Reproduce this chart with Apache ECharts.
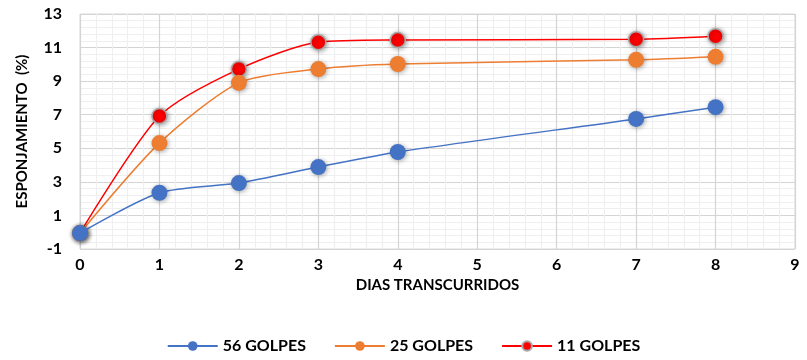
<!DOCTYPE html>
<html>
<head>
<meta charset="utf-8">
<script src="https://cdn.jsdelivr.net/npm/echarts@6/dist/echarts.min.js"></script>
<style>
html, body { margin: 0; padding: 0; background: #fff; }
#main { width: 807px; height: 360px; }
</style>
</head>
<body>
<div id="main"></div>
<script>
// datos
var dias = [0, 1, 2, 3, 4, 7, 8];
var golpes56 = [-0.05, 2.35, 2.93, 3.88, 4.78, 6.75, 7.45];
var golpes25 = [-0.05, 5.31, 8.9, 9.72, 10.02, 10.27, 10.45];
var golpes11 = [-0.05, 6.92, 9.72, 11.32, 11.45, 11.5, 11.68];
var nombres = ['56 GOLPES', '25 GOLPES', '11 GOLPES'];
var colores = ['#4472C4', '#ED7D31', '#FF0000'];

function pares(vals) {
	return dias.map(function (d, i) { return [d, vals[i]]; });
}

var myChart = echarts.init(document.getElementById('main'));
var fuente = 'Lato, "Open Sans", sans-serif';

function serie(i, vals) {
	return {
		name: nombres[i],
		type: 'line',
		smooth: 0.25,
		symbol: 'circle',
		symbolSize: i == 2 ? 15 : 16,
		data: pares(vals),
		lineStyle: { color: colores[i], width: 1.5 },
		itemStyle: {
			color: colores[i],
			borderColor: i == 2 ? '#a8a8a8' : colores[i],
			borderWidth: i == 2 ? 1.5 : 0,
			shadowColor: 'rgba(0,0,0,0.35)',
			shadowBlur: 5,
			shadowOffsetX: 1,
			shadowOffsetY: 1
		},
		emphasis: { disabled: true },
		z: 2 + (2 - i)
	};
}

var option = {
	animation: false,
	textStyle: { fontFamily: fuente },
	grid: {
		left: 80,
		right: 12,
		top: 14,
		bottom: 111,
		show: true,
		borderColor: '#d9d9d9',
		borderWidth: 1
	},
	legend: {
		bottom: 1,
		left: 'center',
		itemWidth: 50,
		itemHeight: 12,
		itemGap: 28,
		data: nombres,
		textStyle: { fontFamily: fuente, fontWeight: 'bold', fontSize: 16, color: '#000' }
	},
	xAxis: {
		type: 'value',
		min: 0,
		max: 9,
		interval: 1,
		name: 'DIAS TRANSCURRIDOS',
		nameLocation: 'middle',
		nameGap: 29,
		nameTextStyle: { fontFamily: fuente, fontWeight: 'bold', fontSize: 15, color: '#000' },
		axisLine: { show: false },
		axisTick: { show: false },
		axisLabel: { fontFamily: fuente, fontWeight: 'bold', fontSize: 16, color: '#000', margin: 8 },
		splitLine: { show: true, lineStyle: { color: '#d4d4d4', width: 1.2 } },
		minorTick: { show: false, splitNumber: 5 },
		minorSplitLine: { show: true, lineStyle: { color: '#efefef', width: 1.2 } }
	},
	yAxis: {
		type: 'value',
		min: -1,
		max: 13,
		interval: 2,
		name: 'ESPONJAMIENTO  (%)',
		nameLocation: 'middle',
		nameGap: 50,
		nameTextStyle: { fontFamily: fuente, fontWeight: 'bold', fontSize: 15, color: '#000' },
		axisLine: { show: false },
		axisTick: { show: false },
		axisLabel: { fontFamily: fuente, fontWeight: 'bold', fontSize: 16, color: '#000', margin: 18 },
		splitLine: { show: true, lineStyle: { color: '#d4d4d4', width: 1.2 } },
		minorTick: { show: false, splitNumber: 5 },
		minorSplitLine: { show: true, lineStyle: { color: '#efefef', width: 1.2 } }
	},
	series: [
		serie(0, golpes56),
		serie(1, golpes25),
		serie(2, golpes11)
	]
};

myChart.setOption(option);
window.onresize = myChart.resize;
</script>
</body>
</html>
